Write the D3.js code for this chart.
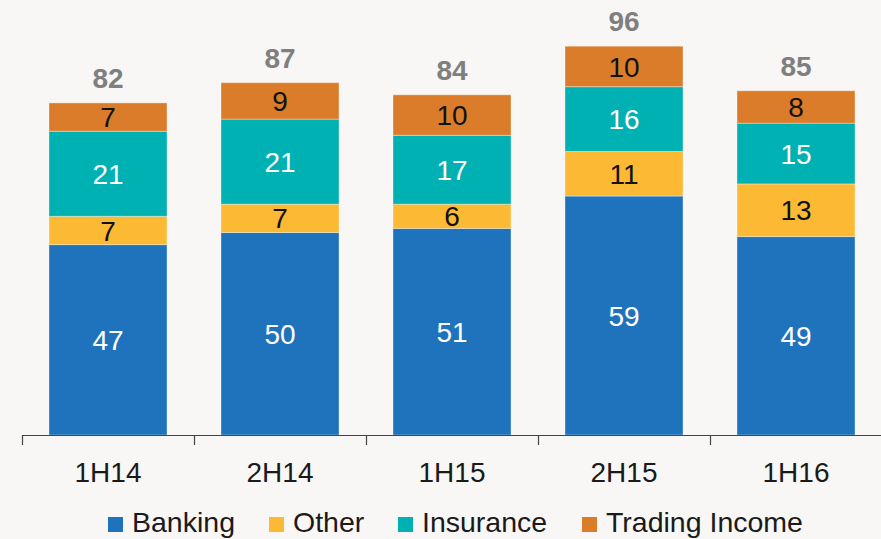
<!DOCTYPE html>
<html>
<head>
<meta charset="utf-8">
<script src="https://cdn.jsdelivr.net/npm/d3@7"></script>
<style>
  html, body { margin: 0; padding: 0; background: #f8f7f5; }
  svg { display: block; font-family: "Liberation Sans", Arial, sans-serif; }
</style>
</head>
<body>
<svg id="chart" width="881" height="539"></svg>
<script>
// data
var periods = ["1H14", "2H14", "1H15", "2H15", "1H16"];
var banking = [47, 50, 51, 59, 49];
var other = [7, 7, 6, 11, 13];
var insurance = [21, 21, 17, 16, 15];
var trading = [7, 9, 10, 10, 8];
var totals = [82, 87, 84, 96, 85];
var seriesNames = ["Banking", "Other", "Insurance", "Trading Income"];

var colors = ["#1f73bc", "#fbb934", "#00b1b3", "#db7c2b"];
var labelColors = ["#ffffff", "#111111", "#ffffff", "#111111"];

var width = 881, height = 539;
var base = 435;

var svg = d3.select("#chart");

// background
svg.append("rect")
  .attr("width", width)
  .attr("height", height)
  .attr("fill", "#f8f7f5");

var rows = periods.map(function(p, i) {
  return { period: p, Banking: banking[i], Other: other[i], Insurance: insurance[i], "Trading Income": trading[i], total: totals[i] };
});

var stack = d3.stack().keys(seriesNames);
var layers = stack(rows);

var x = d3.scaleBand()
  .domain(periods)
  .range([22, 882])
  .paddingInner(0.314)
  .paddingOuter(0.157);

var y = d3.scaleLinear()
  .domain([0, 100])
  .range([base, 30]);

var g = svg.append("g");

var layer = g.selectAll("g.layer")
  .data(layers)
  .enter().append("g")
  .attr("class", "layer")
  .attr("fill", function(d, i) { return colors[i]; });

layer.selectAll("rect")
  .data(function(d) { return d; })
  .enter().append("rect")
  .attr("x", function(d) { return x(d.data.period); })
  .attr("y", function(d) { return y(d[1]); })
  .attr("width", x.bandwidth())
  .attr("height", function(d) { return y(d[0]) - y(d[1]); })
  .attr("stroke", "rgba(255,255,255,0.35)")
  .attr("stroke-width", 1);

// segment labels
layers.forEach(function(l, i) {
  g.selectAll(null)
    .data(l)
    .enter().append("text")
    .attr("x", function(d) { return x(d.data.period) + x.bandwidth() / 2; })
    .attr("y", function(d) { return (y(d[0]) + y(d[1])) / 2; })
    .attr("dy", "0.36em")
    .attr("text-anchor", "middle")
    .attr("font-size", 28)
    .attr("fill", labelColors[i])
    .text(function(d) { return d[1] - d[0]; });
});

// totals
g.selectAll("text.total")
  .data(rows)
  .enter().append("text")
  .attr("class", "total")
  .attr("x", function(d) { return x(d.period) + x.bandwidth() / 2; })
  .attr("y", function(d) { return y(d.total) - 15; })
  .attr("text-anchor", "middle")
  .attr("font-size", 28)
  .attr("font-weight", "bold")
  .attr("fill", "#7f7f7f")
  .text(function(d) { return d.total; });

// x axis: labels centred, ticks between categories
var axis = svg.append("g")
  .attr("transform", "translate(0," + base + ")")
  .call(d3.axisBottom(x).tickSize(0).tickPadding(0));
axis.select(".domain").remove();
axis.selectAll("text")
  .attr("y", 47)
  .attr("dy", 0)
  .attr("font-size", 28)
  .attr("font-family", "Liberation Sans, Arial, sans-serif")
  .attr("fill", "#1a1a1a");

var edges = periods.map(function(p) { return x(p) - x.step() * x.paddingInner() / 2; });
edges.push(x.range()[1]);

svg.append("line")
  .attr("x1", edges[0]).attr("x2", width)
  .attr("y1", base + 0.5).attr("y2", base + 0.5)
  .attr("stroke", "#444")
  .attr("stroke-width", 1.2);

svg.selectAll("line.tick")
  .data(edges)
  .enter().append("line")
  .attr("class", "tick")
  .attr("x1", function(d) { return Math.round(d) + 0.5; })
  .attr("x2", function(d) { return Math.round(d) + 0.5; })
  .attr("y1", base)
  .attr("y2", base + 10)
  .attr("stroke", "#444")
  .attr("stroke-width", 1.2);

// legend
var legendX = [108, 269, 398, 582];
var legend = svg.append("g").attr("transform", "translate(0,517)");
var item = legend.selectAll("g")
  .data(seriesNames)
  .enter().append("g")
  .attr("transform", function(d, i) { return "translate(" + legendX[i] + ",0)"; });
item.append("rect")
  .attr("width", 15)
  .attr("height", 15)
  .attr("fill", function(d, i) { return colors[i]; });
item.append("text")
  .attr("x", 24)
  .attr("y", 15)
  .attr("font-size", 28.5)
  .attr("fill", "#1a1a1a")
  .text(function(d) { return d; });
</script>
</body>
</html>
